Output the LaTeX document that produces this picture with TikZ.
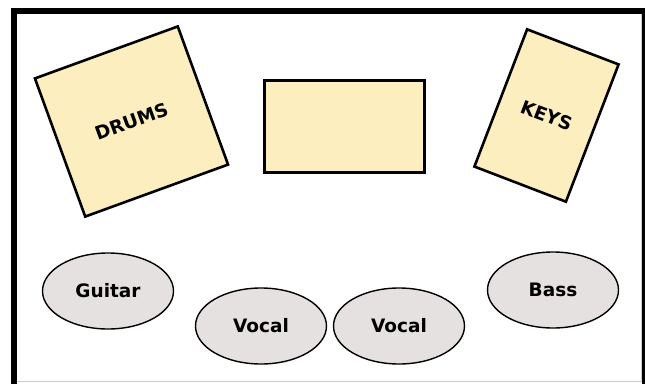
\documentclass[tikz,border=0pt]{standalone}
\usepackage{fontspec}
\setmainfont{DejaVu Sans}
\usepackage{xcolor}
\usetikzlibrary{shapes.geometric}
\definecolor{standfill}{RGB}{253,238,191}
\definecolor{spotfill}{RGB}{229,225,225}
\definecolor{edgegray}{RGB}{205,205,205}
\tikzset{
  label text/.style={font=\fontsize{18.5}{21}\selectfont\bfseries}
}

\begin{document}
\begin{tikzpicture}[
    x=1pt, y=-1pt,
    riser/.style={draw, line width=2.6pt, fill=standfill, inner sep=0pt, label text},
    spot/.style={ellipse, draw, line width=1.4pt, fill=spotfill, inner sep=0pt,
      minimum width=131pt, minimum height=76pt, label text},
    every path/.style={line join=miter}
  ]
    \path[use as bounding box] (0,0) rectangle (645,383);
    % stage frame
    \draw[edgegray, line width=1pt] (16.5,381.5) -- (641,381.5) -- (641,14);
    \draw[line width=6pt] (13.5,11) rectangle (645,390);

    % risers
    \node[riser, minimum width=152pt, minimum height=147pt, rotate=20] (drums) at (131.5,121.5) {DRUMS};
    \node[riser, minimum width=160pt, minimum height=92pt] (centre) at (344.5,126.5) {};
    \node[riser, minimum width=98pt, minimum height=147pt, rotate=-21] (keys) at (546.5,115.5) {KEYS};

    % players
    \node[spot] (guitar) at (108,291) {Guitar};
    \node[spot] (vocalA) at (261,326) {Vocal};
    \node[spot] (vocalB) at (399,326) {Vocal};
    \node[spot] (bass) at (553,290) {Bass};
  \end{tikzpicture}
\end{document}
